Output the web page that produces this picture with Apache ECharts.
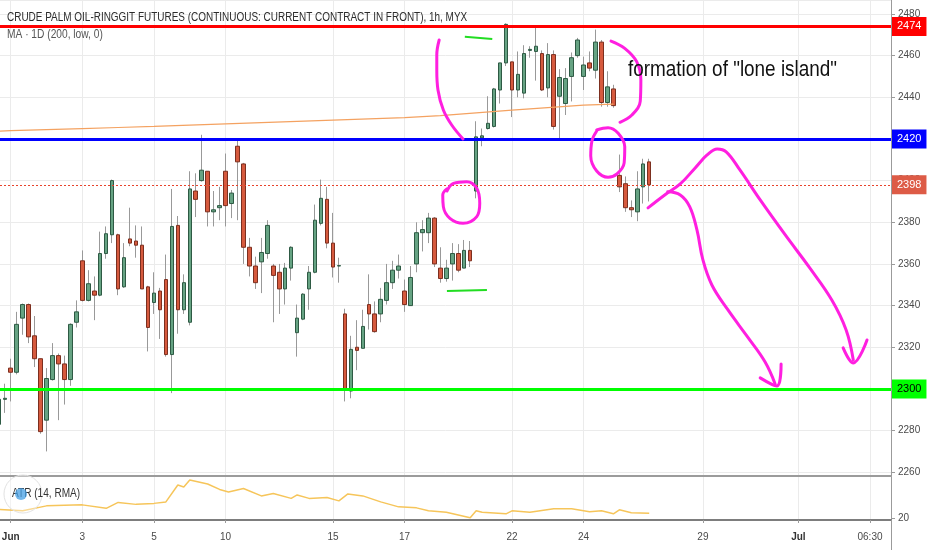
<!DOCTYPE html>
<html><head><meta charset="utf-8">
<script src="https://cdn.jsdelivr.net/npm/echarts@6/dist/echarts.min.js"></script>
<style>html,body{margin:0;padding:0;background:#fff}#c{width:932px;height:550px}</style>
</head><body><div id="c"></div>
<script>
const FONT = '"Liberation Sans", Arial, sans-serif';

// ---- time axis: bar index -> tick labels ----
const tickIndex = [2, 14, 26, 38, 56, 68, 86, 98, 118, 134, 146];
const tickText  = ['Jun', '3', '5', '10', '15', '17', '22', '24', '29', 'Jul', '06:30'];

// ---- hourly OHLC (bar 0 .. 109) ----
const opens = [2283,2295,2310,2308,2334,2340.5,2325.5,2314.5,2285,2304.5,
 2316,2312,2304.5,2332,2361.5,2342.5,2347,2345,2365,2374,
 2374,2349,2372,2371,2369,2349,2341.5,2347,2352.5,2316.5,
 2378.5,2338,2332,2395,2400,2404.5,2385,2387,2404.5,2389,
 2416.5,2408,2368,2359,2361,2365,2359,2356,2348,2358,
 2327,2333.5,2348,2356,2379.5,2391,2370,2359,2336,2299,
 2320,2319.5,2340.5,2336,2336,2342.5,2351,2357,2347,2340,
 2360,2375,2375,2382,2358,2353,2360,2365,2358,2366.5,
 2395,2420.5,2425,2426,2443.5,2456.5,2457,2443.5,2442,2462.5,
 2462,2461,2444.5,2460.5,2440.5,2437,2450,2460,2450,2456.5,
 2453,2466.5,2437.5,2444,2402.5,2398.5,2387,2385,2397,2409];
const closes = [2295,2295.5,2308,2331,2340.5,2325,2314.5,2279.5,2305,2316,
 2312,2304.5,2331,2337,2342.5,2350.5,2345,2365,2374.5,2400,
 2348,2363,2370,2369,2348,2329.5,2346,2338,2316.5,2378,
 2338,2351,2396,2391,2405,2385,2386,2388,2388,2394,
 2409,2368,2359,2351,2365.5,2378.5,2354.5,2348,2358,2368,
 2334,2345.5,2356,2381,2391.5,2370,2358.5,2359.2,2300,2319,
 2318.5,2330,2336,2327.5,2343,2351,2357,2359,2340.5,2353.5,
 2375,2376.5,2382,2360,2353,2358,2365,2357,2366.5,2361.5,
 2421,2421.5,2427.5,2444,2456.5,2475,2443.5,2451,2461,2463,
 2464.5,2443.5,2460.5,2426,2449.5,2449,2459,2467.5,2455.5,2454,
 2466.5,2437.5,2445,2436,2397,2387,2386,2396,2408,2398];
const lows = [2280,2288.5,2294,2307,2326,2322,2310.5,2278.5,2270,2304,
 2285,2292.5,2301.5,2329.5,2342,2342,2333,2344.5,2362.5,2370,
 2345,2348.5,2368.5,2363,2348,2318,2336,2324,2315.5,2298,
 2326.5,2336,2330.5,2382.5,2399.5,2378,2378,2381,2378,2382,
 2381,2360,2354,2348,2346,2362.5,2332,2336,2340.5,2352,
 2315.5,2333,2338,2355.5,2378.5,2367.5,2353.5,2351,2294,2295.5,
 2309,2319.5,2328.5,2327,2332,2340.5,2348,2353,2337,2340,
 2356,2366,2370,2358.5,2351,2351.5,2352,2356,2358,2358.5,
 2391.5,2416.5,2424.5,2425.5,2437,2455,2430.5,2440,2439.5,2459,
 2448,2443,2440,2424.5,2420,2431.5,2438,2459,2443.5,2452.5,
 2449,2435.5,2435.5,2435,2394.5,2385,2382.5,2380.5,2389,2390];
const highs = [2297,2302.5,2314.5,2337,2341,2341,2335,2314.5,2310,2322,
 2317,2316,2331.5,2342.5,2366.5,2357,2354,2375.5,2378,2400.5,
 2374.5,2370,2387,2378.5,2378,2349.5,2356,2348.5,2364.5,2396,
 2383,2355,2404.5,2403.5,2422,2404.5,2395,2397,2413,2395.5,
 2420,2408.5,2372.5,2363.5,2372.5,2381,2360,2360,2360.5,2368.5,
 2340.5,2346,2359,2388.5,2400.5,2397,2384.5,2363,2338.5,2325.5,
 2333,2338,2355,2342,2348.5,2360,2361.5,2364.5,2352.5,2359,
 2380,2381,2384.5,2382.5,2368,2362,2370,2369.5,2371.5,2371,
 2428.5,2425,2440.5,2444.5,2456.5,2475.5,2457,2462,2465,2464.5,
 2474.5,2462.5,2466,2462.5,2453.5,2454,2461.5,2468.5,2459.5,2462,
 2472.5,2467.5,2452.5,2446,2412.5,2402,2390.5,2404.5,2410.5,2410.5];

// ---- MA 1D (200, low): [bar index, value] ----
const maIdx = [0, 2, 8, 14, 20, 26, 32, 38, 44, 50, 56, 62, 68, 74, 80, 86, 92, 98, 103];
const maVal = [2423.7, 2424.0, 2424.5, 2425.0, 2425.5, 2426.0, 2426.6, 2427.2, 2427.8, 2428.4,
 2429.0, 2429.6, 2430.2, 2431.2, 2432.5, 2433.8, 2435.0, 2436.2, 2436.7];

// ---- ATR (14, RMA): [bar index, value] ----
const atrIdx = [0, 4, 8, 14, 18, 20, 23, 26, 28, 30, 31, 32, 35, 37, 38.5, 41, 44, 46, 49, 50, 52, 55, 57, 58.5,
 61, 64, 67, 70, 72, 75, 79, 80, 81, 85, 86, 89, 93, 96, 99, 101, 103, 104, 106, 109];
const atrVal = [21.8, 21.5, 22.5, 22.7, 22.0, 23.2, 22.8, 23.0, 23.3, 26.7, 26.3, 27.7, 26.9, 25.8, 25.3, 26.0, 24.5, 25.0, 24.0, 24.7, 24.0, 24.2, 23.5, 24.9,
 24.5, 23.3, 22.3, 22.1, 21.5, 21.2, 20.1, 21.5, 21.2, 20.9, 21.5, 21.2, 21.9, 21.9, 21.3, 21.5, 20.9, 21.7, 21.1, 21.0];

// ---- horizontal price levels ----
const levelValue = [2474, 2420, 2398, 2300];
const levelText  = ['2474', '2420', '2398', '2300'];

// ---- hand-drawn annotations, in [bar index, price] ----
const annoMagenta = [
 [[73.8,2467.5],[73.4,2460.3],[73.4,2453.1],[73.6,2443.5],[74.5,2433.9],[75.9,2426.7],[77.8,2420.0]],
 [[75.1,2395.0],[76.2,2398.7],[78.4,2399.5],[80.1,2396.3],[80.6,2389.1],[80.1,2382.7],[77.8,2379.5],[75.6,2381.9],[74.5,2387.5],[74.4,2393.1],[75.1,2396.0]],
 [[102.6,2467.0],[104.9,2463.5],[106.9,2457.1],[107.6,2448.3],[107.5,2438.2],[106.1,2431.5],[104.1,2428.0]],
 [[100.2,2424.3],[102.1,2425.4],[103.8,2422.7],[104.9,2416.2],[104.8,2408.5],[103.6,2403.2],[102.1,2401.6],[100.2,2404.6],[99.2,2411.8],[99.4,2419.0],[100.2,2423.8]],
 [[108.8,2386.9],[111.6,2393.1],[114.2,2398.4],[116.7,2406.1],[118.7,2412.3],[120.4,2415.2],[121.9,2413.8],[124.2,2405.1],[127.6,2390.7],[131.8,2373.9],[135.9,2358.1],[139.6,2342.7],[142.0,2328.3],[143.2,2313.9]],
 [[141.5,2319.7],[143.2,2312.5],[145.5,2323.5]],
 [[112.1,2394.6],[114.2,2393.1],[115.8,2387.4],[117.0,2376.3],[118.0,2361.9],[119.5,2349.9],[122.2,2337.9],[125.6,2324.5],[128.4,2313.0],[130.1,2302.4]],
 [[127.6,2305.3],[130.4,2301.4],[131.1,2312.0]]
];
const annoGreen = [
 [[78.1,2469.0],[82.7,2468.0]],
 [[75.1,2347.0],[81.8,2347.5]]
];

const bars = opens.map((o, i) => i);
const bodyData = bars.map(i => [i, opens[i], closes[i], Math.min(opens[i], closes[i]), Math.max(opens[i], closes[i])]);
const wickData = bars.map(i => [i, lows[i], highs[i], lows[i], highs[i]]);
const maData = maIdx.map((x, k) => [x, maVal[k]]);
const atrData = atrIdx.map((x, k) => [x, atrVal[k]]);

const levelStyle = [
 {line: {color: '#ff0000', width: 3, type: 'solid'}, bg: '#ff0000', fg: '#ffffff'},
 {line: {color: '#0000ff', width: 3, type: 'solid'}, bg: '#0000ff', fg: '#ffffff'},
 {line: {color: '#e8432c', width: 1, type: [2, 2]}, bg: '#dd5b46', fg: '#ffffff'},
 {line: {color: '#00ff00', width: 3, type: 'solid'}, bg: '#00ff00', fg: '#000000'}
];

const xCommon = {type: 'value', min: 0.2, max: 149.52};
const axisGray = '#9b9b9b';
const plain = v => String(v);

const chart = echarts.init(document.getElementById('c'), null, {renderer: 'canvas'});

const series = [
 {type: 'candlestick', name: 'wick', xAxisIndex: 0, yAxisIndex: 0, data: wickData, barWidth: 1,
  encode: {x: 0, y: [1, 2, 3, 4]}, clip: true, z: 2,
  itemStyle: {color: '#999999', color0: '#999999', borderColor: '#999999', borderColor0: '#999999', borderWidth: 1}},
 {type: 'candlestick', name: 'body', xAxisIndex: 0, yAxisIndex: 0, data: bodyData, barWidth: 4,
  encode: {x: 0, y: [1, 2, 3, 4]}, clip: true, z: 3,
  itemStyle: {color: '#66a383', color0: '#d65a3e', borderColor: '#2e5a44', borderColor0: '#7c2f1f', borderWidth: 1},
  markLine: {silent: true, symbol: ['none', 'none'], animation: false, precision: 0, z: 6,
   data: levelValue.map((v, k) => ({
     yAxis: v,
     lineStyle: levelStyle[k].line,
     label: {show: true, position: 'end', distance: 1, formatter: levelText[k], color: levelStyle[k].fg,
       backgroundColor: levelStyle[k].bg, padding: [5, 5, 3, 5], fontSize: 11, fontFamily: FONT}
   }))}},
 {type: 'line', name: 'MA', xAxisIndex: 0, yAxisIndex: 0, data: maData, showSymbol: false, symbol: 'none',
  lineStyle: {color: '#f4a261', width: 1.2}, z: 4},
 {type: 'line', name: 'ATR', xAxisIndex: 1, yAxisIndex: 1, data: atrData, showSymbol: false, symbol: 'none',
  lineStyle: {color: '#f6c55a', width: 1.5}}
];
annoMagenta.forEach(pts => series.push({type: 'line', xAxisIndex: 0, yAxisIndex: 0, data: pts, smooth: 0.4,
  symbol: 'none', clip: false, z: 10, lineStyle: {color: '#ff1fe0', width: 3, cap: 'round', join: 'round'}}));
annoGreen.forEach(pts => series.push({type: 'line', xAxisIndex: 0, yAxisIndex: 0, data: pts,
  symbol: 'none', clip: false, z: 10, lineStyle: {color: '#22dd22', width: 2}}));

chart.setOption({
  animation: false,
  backgroundColor: '#ffffff',
  grid: [
    {left: 0, right: 41, top: 0, height: 476, outerBoundsMode: 'none', containLabel: false},
    {left: 0, right: 41, top: 477, height: 43, outerBoundsMode: 'none', containLabel: false}
  ],
  xAxis: [
    Object.assign({gridIndex: 0,
      axisLine: {show: true, onZero: false, lineStyle: {color: axisGray, width: 2}},
      axisTick: {show: false, customValues: tickIndex},
      axisLabel: {show: false},
      splitLine: {show: true, lineStyle: {color: '#ebebeb', width: 1}}}, xCommon),
    Object.assign({gridIndex: 1,
      axisLine: {show: true, onZero: false, lineStyle: {color: '#7d7d7d', width: 2}},
      axisTick: {show: true, customValues: tickIndex, length: 3, lineStyle: {color: axisGray}},
      axisLabel: {show: true, customValues: tickIndex, margin: 12, fontSize: 10, fontFamily: FONT, color: '#4a4a4a',
        formatter: v => { const k = tickIndex.indexOf(v); const t = k >= 0 ? tickText[k] : '';
          return (t === 'Jun' || t === 'Jul') ? '{b|' + t + '}' : t; },
        rich: {b: {fontWeight: 'bold', fontSize: 10, fontFamily: FONT, color: '#333'}}},
      splitLine: {show: true, lineStyle: {color: '#ebebeb', width: 1}}}, xCommon)
  ],
  yAxis: [
    {gridIndex: 0, type: 'value', position: 'right', min: 2258.2, max: 2486.7, splitNumber: 10,
     axisLine: {show: true, lineStyle: {color: axisGray, width: 1}},
     axisTick: {show: true, length: 4, lineStyle: {color: axisGray}},
     axisLabel: {show: true, margin: 7, fontSize: 10, fontFamily: FONT, color: '#4a4a4a', formatter: plain,
       showMinLabel: false, showMaxLabel: false},
     splitLine: {show: true, lineStyle: {color: '#ebebeb'}}},
    {gridIndex: 1, type: 'value', position: 'right', min: 19.66, max: 28.3, splitNumber: 1,
     axisLine: {show: true, lineStyle: {color: axisGray, width: 1}},
     axisTick: {show: true, length: 4, lineStyle: {color: axisGray}},
     axisLabel: {show: true, margin: 7, fontSize: 10, fontFamily: FONT, color: '#4a4a4a', formatter: plain,
       showMinLabel: false, showMaxLabel: false},
     splitLine: {show: false}}
  ],
  graphic: [
    {type: 'text', x: 7, y: 17.5, scaleX: 0.83, z: 20, style: {text: 'CRUDE PALM OIL-RINGGIT FUTURES (CONTINUOUS: CURRENT CONTRACT IN FRONT), 1h, MYX',
      font: '12px ' + FONT, fill: '#2b2b2b', verticalAlign: 'middle'}},
    {type: 'text', x: 7, y: 35, scaleX: 0.85, z: 20, style: {text: 'MA · 1D (200, low, 0)', font: '12px ' + FONT, fill: '#555555', verticalAlign: 'middle'}},
    {type: 'text', x: 628, y: 70, scaleX: 0.86, z: 20, style: {text: 'formation of "lone island"', font: '22px ' + FONT, fill: '#111111', verticalAlign: 'middle'}},
    {type: 'text', x: 12, y: 494, scaleX: 0.84, z: 20, style: {text: 'ATR (14, RMA)', font: '12px ' + FONT, fill: '#333333', verticalAlign: 'middle'}},
    {type: 'circle', z: 19, shape: {cx: 23, cy: 494, r: 19}, style: {fill: 'rgba(255,255,255,0.35)', stroke: '#e2e2e2', lineWidth: 1}},
    {type: 'circle', z: 21, shape: {cx: 21, cy: 494, r: 6}, style: {fill: 'rgba(70,160,230,0.75)'}},
    {type: 'line', z: 20, shape: {x1: 891.5, y1: 520, x2: 891.5, y2: 550}, style: {stroke: axisGray, lineWidth: 1}}
  ],
  series: series
});
</script></body></html>
